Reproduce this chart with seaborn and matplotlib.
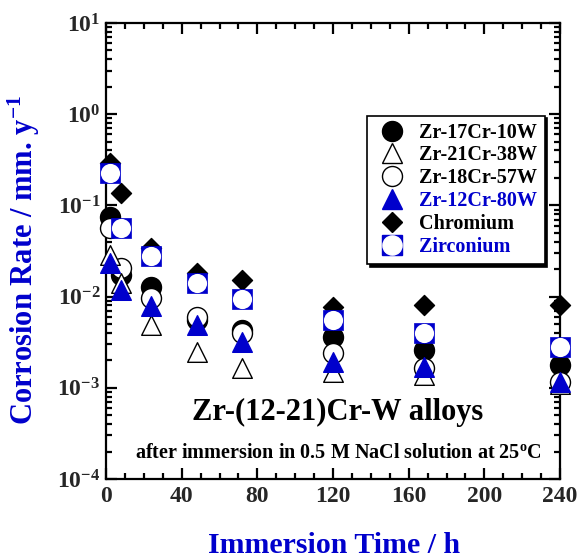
import numpy as np
import pandas as pd
import matplotlib
matplotlib.use("Agg")
import matplotlib.pyplot as plt
import seaborn as sns
from matplotlib.ticker import FixedLocator, LogLocator, NullFormatter, MultipleLocator
from matplotlib.lines import Line2D
from matplotlib.legend_handler import HandlerTuple

sns.set_theme(style="ticks")
plt.rcParams['font.family'] = ['Liberation Serif', 'DejaVu Serif']
plt.rcParams['font.weight'] = 'bold'
plt.rcParams['mathtext.fontset'] = 'custom'
plt.rcParams['mathtext.rm'] = 'Liberation Serif:bold'
plt.rcParams['mathtext.it'] = 'Liberation Serif:bold'
plt.rcParams['mathtext.bf'] = 'Liberation Serif:bold'
plt.rcParams['mathtext.default'] = 'rm'
plt.rcParams['axes.unicode_minus'] = False

BLUE = '#0000cc'

# ---- data ----
time_h = [2, 8, 24, 48, 72, 120, 168, 240]
zr17cr10w = [0.075, 0.0173, 0.0128, 0.0055, 0.0043, 0.0036, 0.0026, 0.00178]
zr21cr38w = [0.0286, 0.014, 0.0049, 0.0025, 0.00164, 0.00148, 0.00138, 0.0011]
zr18cr57w = [0.056, 0.0204, 0.0096, 0.006, 0.0040, 0.0024, 0.00164, 0.00117]
zr12cr80w = [0.0232, 0.0118, 0.0078, 0.0049, 0.0032, 0.00193, 0.0017, 0.00117]
chromium = [0.29, 0.136, 0.034, 0.018, 0.0152, 0.0077, 0.0081, 0.008]
zirconium = [0.225, 0.056, 0.0279, 0.014, 0.0093, 0.0056, 0.0040, 0.0028]

series_names = ['Zr-17Cr-10W', 'Zr-21Cr-38W', 'Zr-18Cr-57W', 'Zr-12Cr-80W', 'Chromium', 'Zirconium']
series_vals = [zr17cr10w, zr21cr38w, zr18cr57w, zr12cr80w, chromium, zirconium]
label_colors = ['black', 'black', 'black', BLUE, 'black', BLUE]

x_ticks = [0, 40, 80, 120, 160, 200, 240]
y_ticks = [1e-4, 1e-3, 1e-2, 1e-1, 1e0, 1e1]
y_ticklabels = [r'10$^{\mathbf{-4}}$', r'10$^{\mathbf{-3}}$', r'10$^{\mathbf{-2}}$',
                r'10$^{\mathbf{-1}}$', r'10$^{\mathbf{0}}$', r'10$^{\mathbf{1}}$']

df = pd.DataFrame({
    'time': np.tile(time_h, len(series_names)),
    'rate': np.concatenate(series_vals),
    'alloy': np.repeat(series_names, len(time_h)),
})

fig = plt.figure(figsize=(5.8, 5.59), dpi=100)
ax = fig.add_axes([106/580, 1-479/559, (560-106)/580, (479-23)/559])

styles = {
    'Zr-17Cr-10W': dict(marker='o', s=207, color='black', edgecolor='black', linewidth=1.0, zorder=3),
    'Zr-18Cr-57W': dict(marker='o', s=207, color='white', edgecolor='black', linewidth=1.0, zorder=4),
    'Zr-21Cr-38W': dict(marker='^', s=200, color='white', edgecolor='black', linewidth=1.0, zorder=5),
    'Zr-12Cr-80W': dict(marker='^', s=200, color=BLUE, edgecolor=BLUE, linewidth=1.0, zorder=6),
    'Chromium': dict(marker='D', s=104, color='black', edgecolor='black', linewidth=1.0, zorder=7),
}
for name, st in styles.items():
    sns.scatterplot(data=df[df['alloy'] == name], x='time', y='rate', ax=ax,
                    legend=False, clip_on=False, **st)
zr = df[df['alloy'] == 'Zirconium']
sns.scatterplot(data=zr, x='time', y='rate', ax=ax, marker='s', s=225, color=BLUE,
                edgecolor=BLUE, linewidth=0.5, legend=False, zorder=8, clip_on=False)
sns.scatterplot(data=zr, x='time', y='rate', ax=ax, marker='o', s=190, color='white',
                edgecolor='white', linewidth=0, legend=False, zorder=9, clip_on=False)

ax.set_yscale('log')
ax.set_xlim(0, 240)
ax.set_ylim(1e-4, 1e1)
ax.xaxis.set_major_locator(FixedLocator(x_ticks))
ax.xaxis.set_minor_locator(MultipleLocator(10))
ax.set_xticklabels([str(t) for t in x_ticks])
ax.yaxis.set_major_locator(FixedLocator(y_ticks))
ax.set_yticklabels(y_ticklabels)
ax.yaxis.set_minor_locator(LogLocator(base=10, subs=np.arange(2, 10), numticks=20))
ax.yaxis.set_minor_formatter(NullFormatter())

for sp in ax.spines.values():
    sp.set_linewidth(1.6)
    sp.set_color('black')
ax.tick_params(which='both', direction='in', top=True, right=True, width=1.6, color='black')
ax.tick_params(which='major', length=8)
ax.tick_params(which='minor', length=4.5)
ax.tick_params(axis='x', labelsize=17, pad=5)
ax.tick_params(axis='y', labelsize=17, pad=4)
for lbl in ax.get_xticklabels() + ax.get_yticklabels():
    lbl.set_fontweight('bold')

ax.set_xlabel('Immersion Time / h', fontsize=21.5, fontweight='bold', color=BLUE, va='top')
ax.xaxis.set_label_coords(0.502, -0.117)
ax.set_ylabel(r'Corrosion Rate / mm. y$^{\mathbf{-1}}$', fontsize=22, fontweight='bold', color=BLUE)
ax.yaxis.set_label_coords(-0.14, 0.48)

ax.text(0.511, 0.145, 'Zr-(12-21)Cr-W alloys', transform=ax.transAxes, ha='center', va='center',
        fontsize=22, fontweight='bold', color='black')
ax.text(0.511, 0.057, r'after immersion in 0.5 M NaCl solution at 25$^{\mathbf{o}}$C', transform=ax.transAxes,
        ha='center', va='center', fontsize=14.5, fontweight='bold', color='black')

# legend
handles = [
    Line2D([], [], ls='none', marker='o', ms=14.4, mfc='black', mec='black'),
    Line2D([], [], ls='none', marker='^', ms=14.1, mfc='white', mec='black'),
    Line2D([], [], ls='none', marker='o', ms=14.4, mfc='white', mec='black'),
    Line2D([], [], ls='none', marker='^', ms=14.1, mfc=BLUE, mec=BLUE),
    Line2D([], [], ls='none', marker='D', ms=10.2, mfc='black', mec='black'),
    (Line2D([], [], ls='none', marker='s', ms=15, mfc=BLUE, mec=BLUE),
     Line2D([], [], ls='none', marker='o', ms=13.8, mfc='white', mec='white')),
]
leg = ax.legend(handles, series_names, loc='upper left', bbox_to_anchor=(0.575, 0.797),
                handler_map={tuple: HandlerTuple(ndivide=1, pad=0)},
                frameon=True, fancybox=False, shadow={'color': 'black', 'alpha': 1},
                edgecolor='black', framealpha=1, prop={'weight': 'bold', 'size': 14.5},
                handlelength=1.8, handletextpad=0.45, labelspacing=0.14, borderpad=0.35,
                borderaxespad=0)
leg.get_frame().set_linewidth(1.2)
for txt, c in zip(leg.get_texts(), label_colors):
    txt.set_color(c)

fig.savefig('out.png', dpi=100)
